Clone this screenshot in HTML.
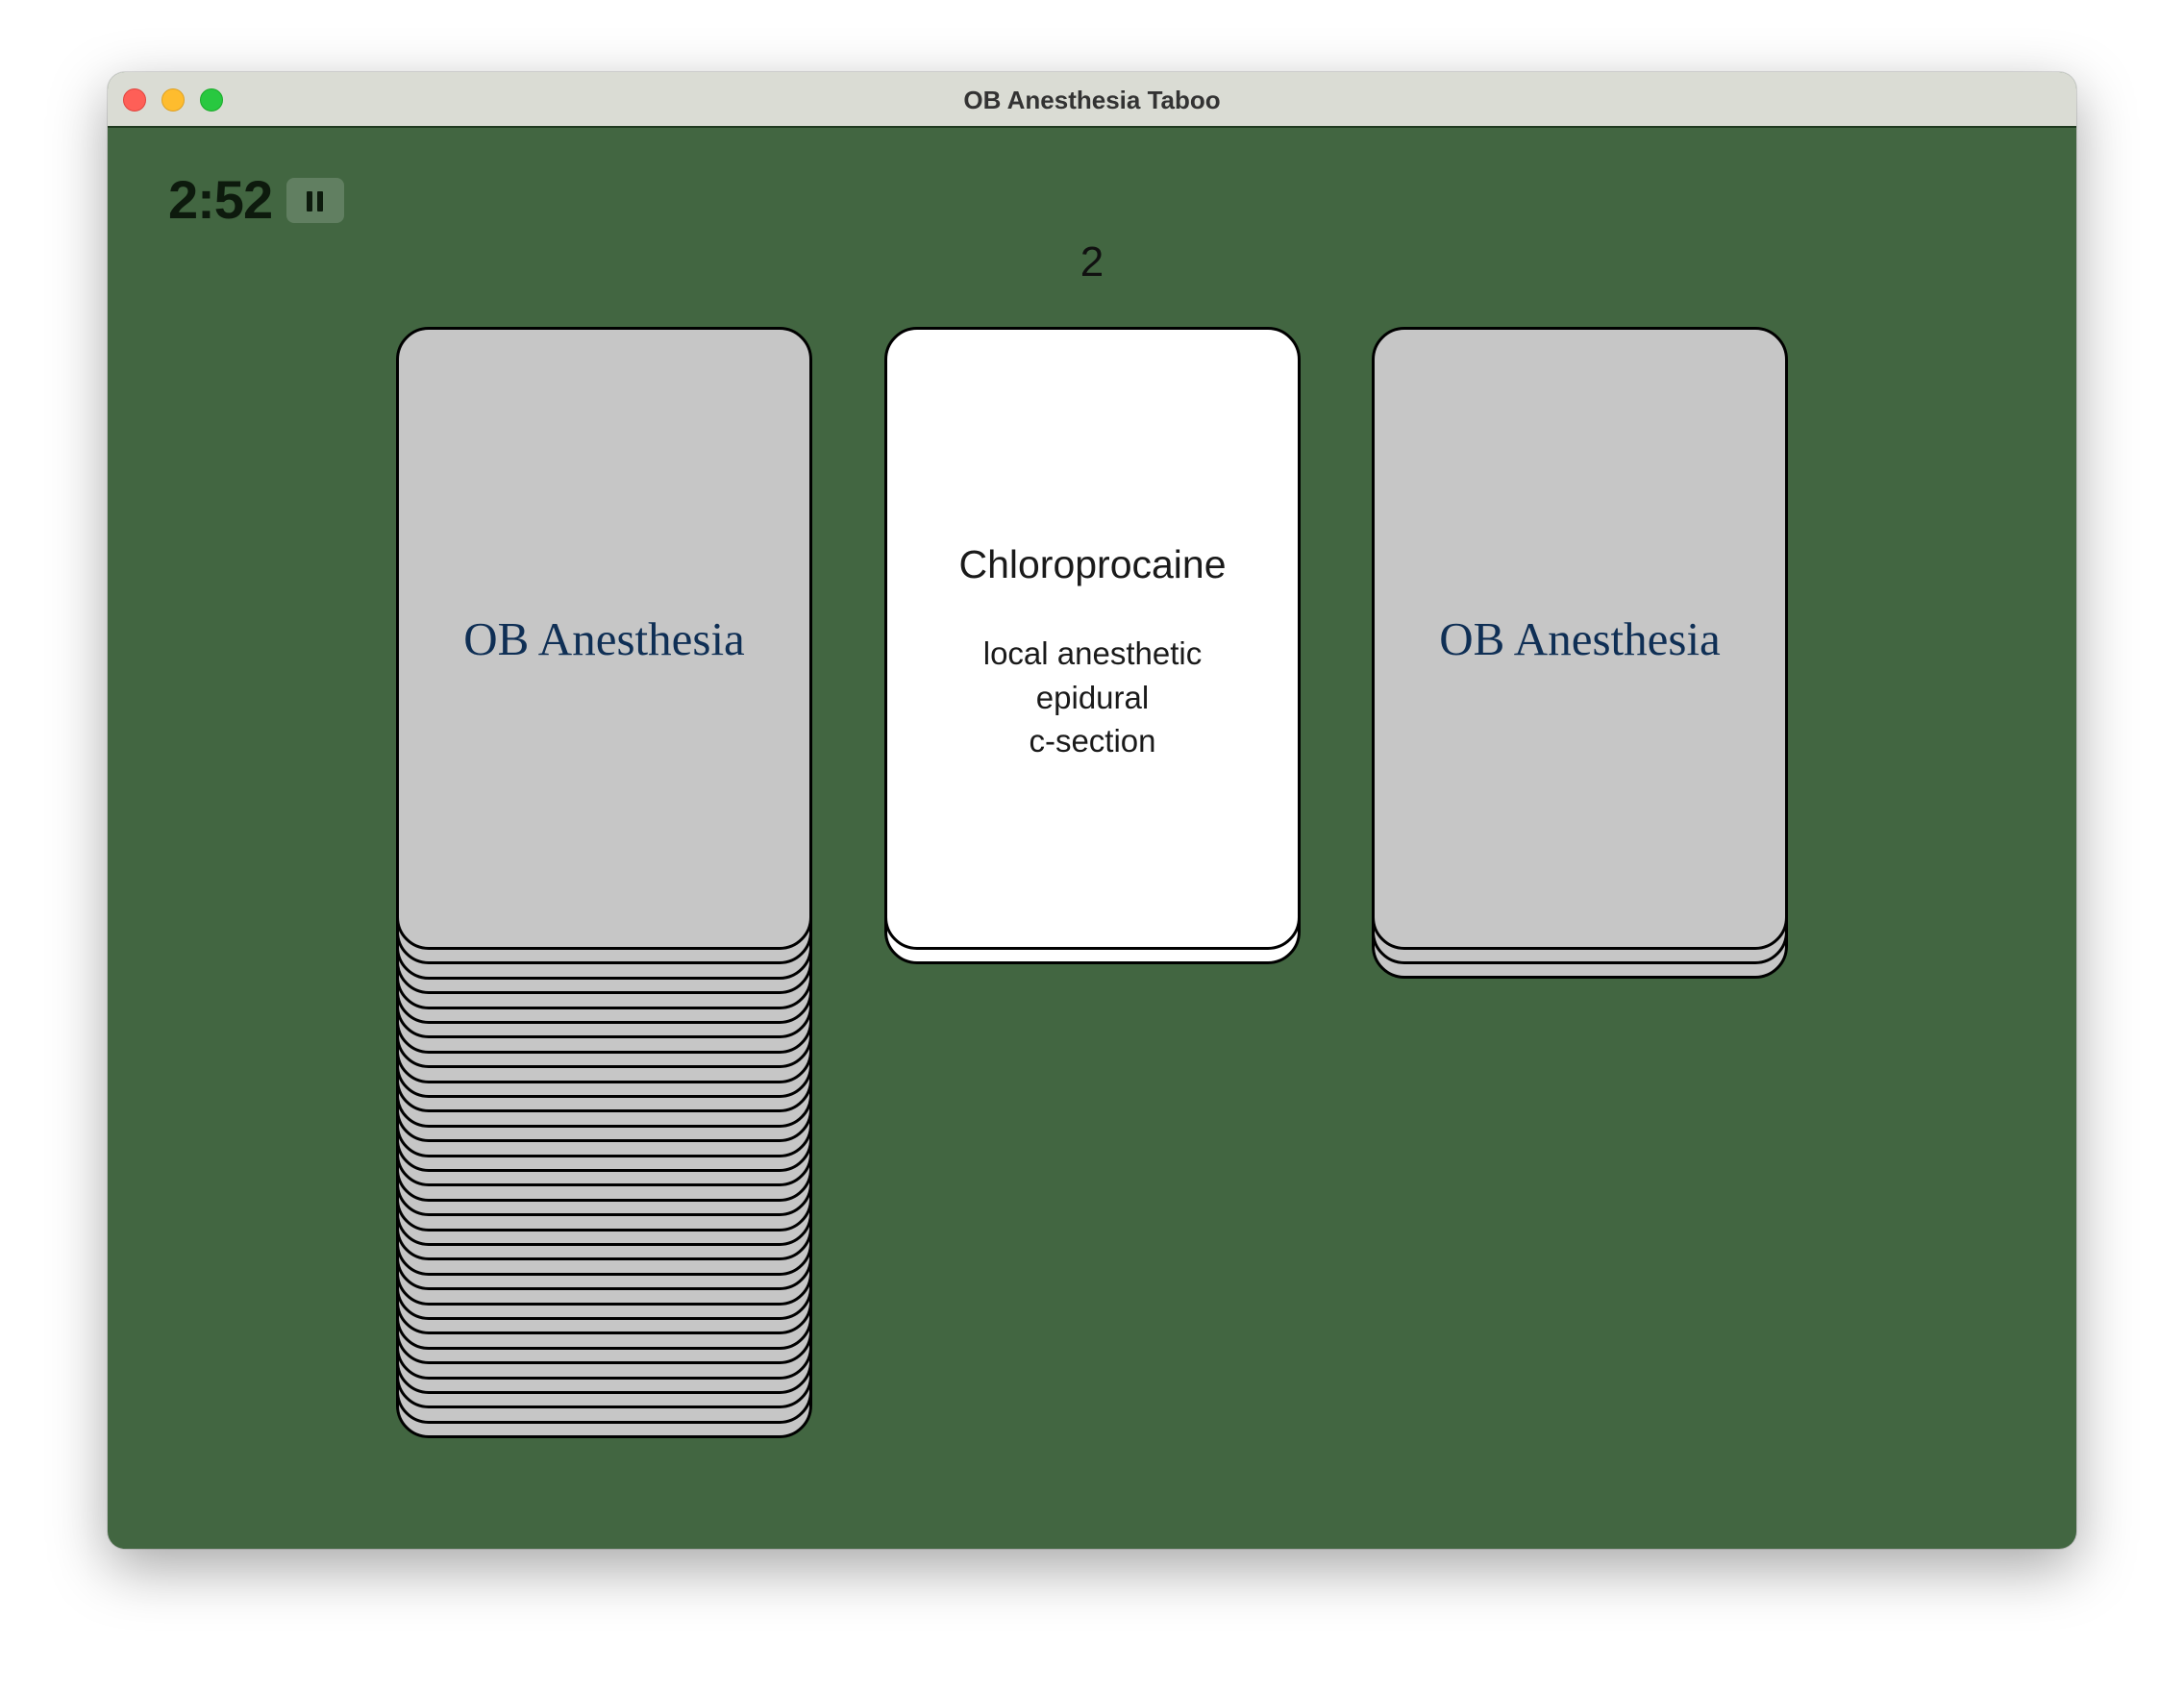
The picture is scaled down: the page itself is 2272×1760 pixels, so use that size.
<!DOCTYPE html>
<html><head><meta charset="utf-8"><style>
body{margin:0;width:2272px;height:1760px;background:#fff;position:relative;overflow:hidden;font-family:"Liberation Sans",sans-serif}
.win{position:absolute;left:112px;top:75px;width:2048px;height:1536px;border-radius:18px;background:#426641;overflow:hidden;box-shadow:0 20px 60px rgba(0,0,0,.35),0 0 0 1px rgba(0,0,0,.12)}
.tb{position:absolute;left:0;top:0;width:100%;height:56px;background:#dadcd4;border-bottom:2px solid #1f3a1f}
.dot{position:absolute;top:17px;width:24px;height:24px;border-radius:50%}
.t{position:absolute;white-space:nowrap;line-height:1}
.card{position:absolute;width:427px;height:642px;border:3px solid #000;border-radius:34px;box-sizing:content-box}
</style></head><body>
<div class="win">
<div class="tb">
<div class="dot" style="left:16px;background:#fe5f57;border:1px solid #e0443e;box-sizing:border-box"></div>
<div class="dot" style="left:56px;background:#febc2e;border:1px solid #dea123;box-sizing:border-box"></div>
<div class="dot" style="left:96px;background:#28c840;border:1px solid #1aab29;box-sizing:border-box"></div>
<div class="t" style="left:0;width:100%;text-align:center;top:16px;font-size:26px;font-weight:bold;color:#333">OB Anesthesia Taboo</div>
</div>
</div>
<div class="t" style="left:175px;top:180px;font-size:56px;font-weight:bold;color:#0d1a0d;letter-spacing:-1px">2:52</div>
<div style="position:absolute;left:298px;top:185px;width:60px;height:47px;border-radius:8px;background:rgba(255,255,255,.17)"></div>
<div style="position:absolute;left:319px;top:199px;width:6px;height:21px;background:#0d1a0d;border-radius:1px"></div>
<div style="position:absolute;left:330px;top:199px;width:6px;height:21px;background:#0d1a0d;border-radius:1px"></div>
<div class="t" style="left:1036px;width:200px;text-align:center;top:251px;font-size:44px;color:#111">2</div>
<div id="deck"></div>
<script>
var h='';
for(var i=33;i>=1;i--){h+='<div class="card" style="left:412px;top:'+(340+i*15.4)+'px;background:#c6c6c6"></div>';}
h+='<div class="card" style="left:412px;top:340px;background:#c6c6c6"></div>';
h+='<div class="card" style="left:920px;top:355px;background:#fff"></div>';
h+='<div class="card" style="left:920px;top:340px;background:#fff"></div>';
h+='<div class="card" style="left:1427px;top:370px;background:#c6c6c6"></div>';
h+='<div class="card" style="left:1427px;top:355px;background:#c6c6c6"></div>';
h+='<div class="card" style="left:1427px;top:340px;background:#c6c6c6"></div>';
document.getElementById('deck').outerHTML=h;
</script>
<div class="t" style="left:412px;width:433px;text-align:center;top:640px;font-family:'Liberation Serif',serif;font-size:49px;color:#0f2f55">OB Anesthesia</div>
<div class="t" style="left:1427px;width:433px;text-align:center;top:640px;font-family:'Liberation Serif',serif;font-size:49px;color:#0f2f55">OB Anesthesia</div>
<div class="t" style="left:920px;width:433px;text-align:center;top:567px;font-size:41px;color:#1a1a1a">Chloroprocaine</div>
<div class="t" style="left:920px;width:433px;text-align:center;top:657px;font-size:33px;line-height:45.5px;color:#1a1a1a">local anesthetic<br>epidural<br>c-section</div>
</body></html>
